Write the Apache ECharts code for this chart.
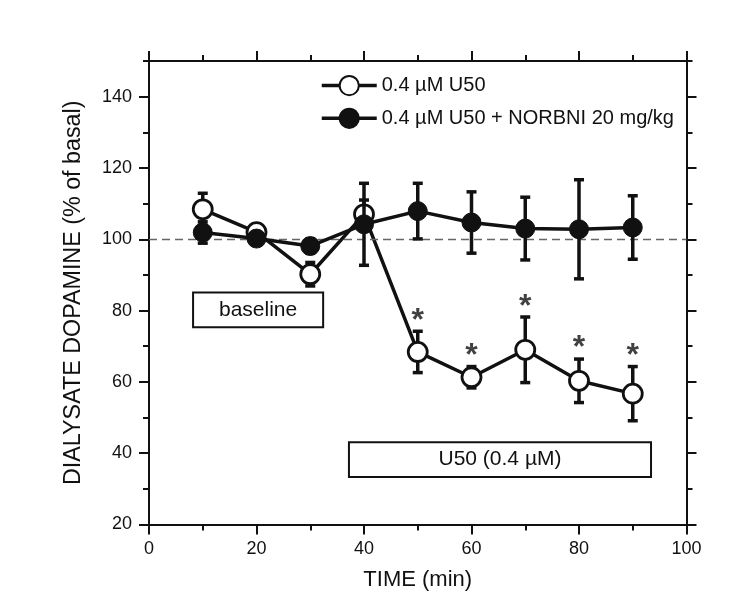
<!DOCTYPE html>
<html>
<head>
<meta charset="utf-8">
<script src="https://cdn.jsdelivr.net/npm/echarts@6/dist/echarts.min.js"></script>
<style>html,body{margin:0;padding:0;background:#fff;}#c{width:750px;height:609px;}</style>
</head>
<body>
<div id="c"></div>
<script>
// ---- data ----
const times = [10, 20, 30, 40, 50, 60, 70, 80, 90];
const u50Mean = [108.4, 102.0, 90.2, 107.0, 68.4, 61.3, 69.0, 60.3, 56.7];
const u50Err  = [4.5, 1.5, 3.3, 4.0, 5.8, 3.0, 9.2, 6.1, 7.6];
const norMean = [101.9, 100.2, 98.1, 104.2, 107.9, 104.7, 103.0, 102.8, 103.3];
const norErr  = [3.0, 1.5, 2.0, 11.5, 7.8, 8.6, 8.8, 13.9, 8.9];
const starTimes = [50, 60, 70, 80, 90];
const starValues = [79.0, 69.3, 83.0, 71.5, 69.3];
const seriesNames = ['0.4 µM U50', '0.4 µM U50 + NORBNI 20 mg/kg'];
const yMajorTicks = [20, 40, 60, 80, 100, 120, 140];
const yMinorTicks = [30, 50, 70, 90, 110, 130, 150];
const baselineValue = 100;
const boxes = [
  {name: 'baseline', x: [8.2, 32.4], y: [75.3, 85.1]},
  {name: 'U50 (0.4 µM)', x: [37.2, 93.4], y: [33.3, 43.1]}
];

const FONT = '"Liberation Sans", Arial, sans-serif';
const INK = '#111';

function errData(mean, err) {
  return times.map((t, i) => [t, mean[i] - err[i], mean[i] + err[i]]);
}
function errSeries(mean, err, z) {
  return {
    type: 'custom', xAxisIndex: 0, yAxisIndex: 0, z: z, silent: true,
    data: errData(mean, err),
    renderItem: function (params, api) {
      const x = api.value(0);
      const lo = api.coord([x, api.value(1)]);
      const hi = api.coord([x, api.value(2)]);
      const cw = 5;
      const st = {stroke: INK, lineWidth: 3.5};
      return {type: 'group', children: [
        {type: 'line', shape: {x1: lo[0], y1: lo[1], x2: hi[0], y2: hi[1]}, style: st},
        {type: 'line', shape: {x1: lo[0] - cw, y1: lo[1], x2: lo[0] + cw, y2: lo[1]}, style: st},
        {type: 'line', shape: {x1: hi[0] - cw, y1: hi[1], x2: hi[0] + cw, y2: hi[1]}, style: st}
      ]};
    }
  };
}

const axisLine = {show: true, onZero: false, lineStyle: {color: INK, width: 2}};
const chart = echarts.init(document.getElementById('c'));
chart.setOption({
  backgroundColor: '#fff',
  animation: false,
  grid: {left: 149, right: 63.5, top: 61, bottom: 84.5, containLabel: false},
  legend: {
    left: 320, top: 75, orient: 'vertical', padding: 0,
    itemWidth: 55, itemHeight: 24, itemGap: 11.5,
    lineStyle: {width: 3.5, color: INK},
    textStyle: {fontFamily: FONT, fontSize: 20, color: INK, padding: [0, 0, 0, 0]},
    data: seriesNames
  },
  xAxis: [
    {type: 'value', position: 'bottom', min: 0, max: 100, interval: 20,
     axisLine: axisLine,
     axisTick: {show: true, inside: false, length: 10, lineStyle: {color: INK, width: 2}},
     minorTick: {show: true, splitNumber: 2, length: 6, lineStyle: {color: INK, width: 2}},
     axisLabel: {fontFamily: FONT, fontSize: 18, color: INK, margin: 16},
     splitLine: {show: false},
     name: 'TIME (min)', nameLocation: 'middle', nameGap: 44,
     nameTextStyle: {fontFamily: FONT, fontSize: 22, color: INK}},
    {type: 'value', position: 'top', min: 0, max: 100, interval: 20,
     axisLine: axisLine,
     axisTick: {show: true, inside: false, length: 10, lineStyle: {color: INK, width: 2}},
     minorTick: {show: true, splitNumber: 2, length: 6, lineStyle: {color: INK, width: 2}},
     axisLabel: {show: false}, splitLine: {show: false}}
  ],
  yAxis: [
    {type: 'value', position: 'left', min: 20, max: 150, interval: 20,
     axisLine: axisLine,
     axisTick: {show: true, inside: false, length: 10, customValues: yMajorTicks, lineStyle: {color: INK, width: 2}},
     axisLabel: {fontFamily: FONT, fontSize: 18, color: INK, margin: 17, customValues: yMajorTicks},
     splitLine: {show: false},
     name: 'DIALYSATE DOPAMINE (% of basal)', nameLocation: 'middle', nameGap: 64, nameRotate: 90,
     nameTextStyle: {fontFamily: FONT, fontSize: 23.3, color: INK}},
    {type: 'value', position: 'right', min: 20, max: 150, interval: 20,
     axisLine: axisLine,
     axisTick: {show: true, inside: false, length: 10, customValues: yMajorTicks, lineStyle: {color: INK, width: 2}},
     axisLabel: {show: false}, splitLine: {show: false}},
    {type: 'value', position: 'left', min: 20, max: 150, interval: 10,
     axisLine: {show: false, onZero: false},
     axisTick: {show: true, inside: false, length: 6, customValues: yMinorTicks, lineStyle: {color: INK, width: 2}},
     axisLabel: {show: false}, splitLine: {show: false}},
    {type: 'value', position: 'right', min: 20, max: 150, interval: 10,
     axisLine: {show: false, onZero: false},
     axisTick: {show: true, inside: false, length: 6, customValues: yMinorTicks, lineStyle: {color: INK, width: 2}},
     axisLabel: {show: false}, splitLine: {show: false}}
  ],
  series: [
    errSeries(u50Mean, u50Err, 3),
    {
      name: seriesNames[0], type: 'line', xAxisIndex: 0, yAxisIndex: 0, z: 4,
      data: times.map((t, i) => [t, u50Mean[i]]),
      symbol: 'circle', symbolSize: 19,
      lineStyle: {color: INK, width: 3.5},
      itemStyle: {color: '#fff', borderColor: INK, borderWidth: 2.8},
      markLine: {
        silent: true, symbol: 'none', label: {show: false},
        lineStyle: {color: '#666', width: 1.3, type: [8, 5]},
        data: [{yAxis: baselineValue}]
      },
      markArea: {
        silent: true,
        itemStyle: {color: '#fff', borderColor: INK, borderWidth: 2},
        label: {show: true, position: 'inside', fontFamily: FONT, fontSize: 21, color: INK},
        data: boxes.map(b => [{name: b.name, xAxis: b.x[0], yAxis: b.y[1]}, {xAxis: b.x[1], yAxis: b.y[0]}])
      }
    },
    errSeries(norMean, norErr, 5),
    {
      name: seriesNames[1], type: 'line', xAxisIndex: 0, yAxisIndex: 0, z: 6,
      data: times.map((t, i) => [t, norMean[i]]),
      symbol: 'circle', symbolSize: 19,
      lineStyle: {color: INK, width: 3.5},
      itemStyle: {color: INK, borderColor: INK, borderWidth: 1}
    },
    {
      type: 'scatter', xAxisIndex: 0, yAxisIndex: 0, z: 7, silent: true,
      symbolSize: 1, itemStyle: {color: 'rgba(0,0,0,0)'},
      data: starTimes.map((t, i) => [t, starValues[i]]),
      label: {show: true, position: 'inside', formatter: '*', fontFamily: FONT,
              fontSize: 32, fontWeight: 'bold', color: INK, offset: [0, 7]}
    }
  ]
});
</script>
</body>
</html>
